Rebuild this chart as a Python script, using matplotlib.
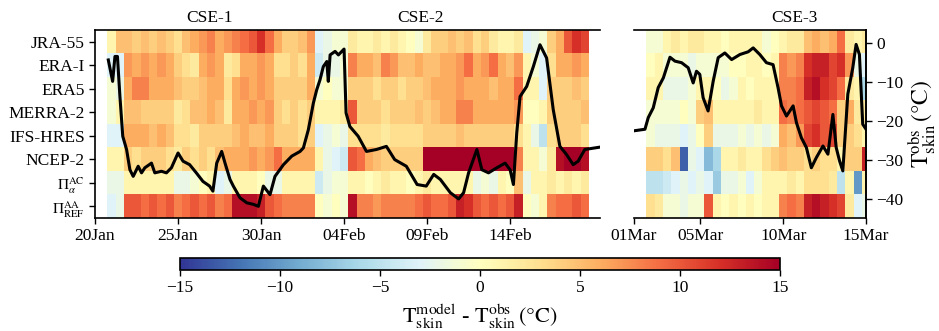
"""Model minus observed skin temperature for the three cold-spell events."""
from datetime import datetime

import numpy as np
import matplotlib
matplotlib.use("Agg")
import matplotlib.pyplot as plt
import matplotlib.dates as mdates
from matplotlib import transforms

plt.rcParams["font.family"] = ["Liberation Serif", "DejaVu Serif"]
plt.rcParams["mathtext.fontset"] = "stix"

# ---------------------------------------------------------------- data
rows = ["JRA-55", "ERA-I", "ERA5", "MERRA-2", "IFS-HRES", "NCEP-2",
        r"$\Pi_{\alpha}^{\mathrm{AC}}$", r"$\Pi_{\mathrm{REF}}^{\mathrm{AA}}$"]

# 12-hourly bias columns (degC), first column starts 20 Jan 18 UTC
start_a = datetime(2020, 1, 20, 18)
bias_a = [
    # JRA-55
    [1, 5, 5, 4, 5, 4, 5, 4, 3, 5, 6, 7, 8, 6, 7, 8, 9, 10, 12, 9,
     6, 4, 4, 5, 7, -3, -2, -1, -1, 2, 1, 1, 2, 1, 2, 1, 0, -1, 2, 4,
     4, 5, 4, 5, 3, 4, 2, 1, 1, 2, -3, -2, -1, 4, 6, 10, 12, 11],
    # ERA-I
    [-3, -3, 7, 6, 7, 6, 7, 6, 4, 3, 2, 6, 7, 6, 2, 3, 6, 6, 7, 6,
     3, 3, 4, 3, 6, -4, -2, -2, -1, 8, 6, 6, 5, 8, 7, 5, 5, 6, 5, 5,
     6, 6, 7, 9, 6, 7, 9, 6, 5, 7, 1, -1, -3, 3, 6, 6, 7, 6],
    # ERA5
    [-1, -2, 6, 8, 8, 6, 6, 6, 5, 4, 4, 5, 6, 6, 3, 6, 7, 6, 7, 6,
     4, 4, 4, 4, 6, -1, 0, -1, -1, 4, 4, 4, 3, 4, 4, 3, 4, 4, 5, 6,
     6, 6, 7, 6, 6, 6, 5, 6, 6, 9, 1, 1, -3, 4, 4, 4, 5, 4],
    # MERRA-2
    [-1, 1, 5, 5, 4, 4, 4, 4, 2, 3, 5, 5, 6, 5, 2, 6, 6, 7, 6, 7,
     4, 3, 4, 3, 4, 1, 1, 1, 2, 10, 4, 4, 4, 3, 4, 4, 4, 5, 4, 5,
     6, 6, 8, 8, 6, 6, 6, 6, 6, 7, 0, 0, 1, 4, 4, 4, 4, 5],
    # IFS-HRES
    [-3, -3, 6, 6, 6, 5, 6, 5, 3, 3, 2, 4, 4, 4, 4, 5, 6, 5, 5, 6,
     4, 4, 4, 3, 4, -3, -2, -1, -2, 3, 3, 3, 3, 2, 3, 3, 3, 3, 4, 4,
     4, 4, 5, 4, 4, 4, 4, 4, 4, 3, 1, -2, -5, 3, 4, 4, 4, 3],
    # NCEP-2
    [1, 1, 4, 3, 4, 4, 4, 3, 2, 4, 3, 4, 3, 5, 6, 6, 6, 7, 6, 7,
     9, 6, 6, 6, 6, 1, -2, -3, -4, 10, 9, 6, 5, 4, 4, 4, 4, 4, 15, 15,
     15, 15, 15, 15, 15, 15, 15, 15, 15, 8, 1, 1, -1, 2, 14, 15, 15, 14],
    # Pi alpha AC
    [-2, -2, 1, 1, 1, 1, 1, 1, -2, -2, -1, 0, 1, -3, -2, 1, 1, 1, 0, -2,
     -2, 1, 1, 1, 1, -4, -2, -1, -1, 1, 1, 0, 1, 2, 1, 1, 0, 1, 2, 1,
     1, 1, 1, 1, -2, -1, -2, 1, 0, 5, -2, 1, 1, 2, 1, 2, 1, 2],
    # Pi REF AA
    [-3, -2, 10, 10, 9, 10, 9, 10, 8, 9, 10, 9, 10, 8, 9, 14, 14, 14, 13, 10,
     9, 8, 8, 8, 8, 0, -1, 0, -1, 14, 8, 8, 7, 8, 8, 8, 8, 9, 10, 9,
     9, 10, 13, 12, 10, 9, 10, 9, 10, 13, 0, -1, 1, 8, 9, 9, 10, 9],
]

start_b = datetime(2020, 3, 1, 18)
bias_b = [
    [-1, -1, 1, 2, 1, 2, 2, 1, 1, 0, 1, 1, 1, 1, -1, 0, 1, 2, 2, 5, 6, 5, 6, 9, 2, 1, 2],
    [0, 1, -1, -1, -1, -2, -1, -1, -1, -1, 0, 0, 1, 1, 0, 1, 8, 7, 8, 12, 13, 13, 11, 12, 7, -2, -3],
    [1, 1, -2, -2, -2, -1, 1, 1, 0, -2, -1, 1, 0, 1, 1, 1, 8, 8, 9, 13, 14, 12, 11, 9, 2, 1, -6],
    [-1, -1, -1, -1, 0, -1, 4, 5, 1, 1, 1, 1, 1, 2, 1, 1, 9, 8, 9, 10, 11, 10, 9, 4, 6, 2, 2],
    [-1, -2, -2, -2, -3, -2, 0, 4, -2, -2, -2, -1, -2, -1, -2, -1, 6, 5, 7, 11, 12, 10, 11, 4, 4, 3, 1],
    [4, 4, 3, 5, -13, -2, -3, -8, -6, 1, 1, 2, 1, 1, 3, 4, 5, 4, 4, 3, 4, 3, 3, 1, 4, 4, 13],
    [-5, -5, -4, -3, -2, -3, -2, -3, -7, -2, -2, -1, -3, -1, 1, 1, 1, 2, 1, 3, 3, 3, 2, -5, 1, -10, 1],
    [3, 2, -1, -1, -2, -1, -1, 10, 1, 0, 1, 0, 1, 0, 1, 1, 8, 9, 8, 13, 14, 13, 12, 11, 2, -3, -2],
]

# observed skin temperature: days after 20 Jan / degC
tobs_day_a = [0.8, 1.06, 1.2, 1.35, 1.5, 1.67, 1.9, 2.1, 2.3, 2.6, 2.8, 3.0, 3.4, 3.6,
              4.0, 4.3, 4.6, 5.0, 5.3, 5.7, 6.1, 6.5, 6.9, 7.1, 7.33, 7.63, 7.83, 8.13,
              8.33, 8.73, 9.14, 9.54, 9.84, 10.14, 10.54, 10.84, 11.35, 11.85, 12.35,
              12.55, 12.85, 13.15, 13.35, 13.55, 13.75, 13.96, 14.05, 14.16, 14.46,
              14.66, 15.0, 15.12, 15.35, 15.85, 16.35, 16.95, 17.55, 18.05, 18.75,
              19.4, 19.95, 20.4, 20.8, 21.4, 21.9, 22.2, 22.5, 23.0, 23.3, 23.7, 24.2,
              24.7, 25.0, 25.2, 25.4, 25.6, 26.0, 26.4, 26.8, 27.2, 27.6, 28.0, 28.4,
              28.8, 29.1, 29.5, 30.4]
tobs_a = [-4.4, -9.9, -3.5, -3.5, -13.8, -24.0, -27.4, -32.6, -34.3, -31.7, -33.4,
          -32.1, -30.9, -33.4, -33.0, -33.4, -32.1, -28.3, -30.4, -31.3, -33.4, -35.6,
          -36.8, -38.1, -30.9, -27.9, -30.9, -35.1,
          -36.8, -39.8, -41.1, -41.5, -42.0, -36.8, -39.0, -34.3, -31.3, -29.1, -27.9,
          -27.0, -22.3, -15.5, -12.1, -9.5, -6.1, -4.8, -9.9, -3.1, -2.2,
          -3.1, -1.6, -18.0, -21.5, -24.0, -27.9, -27.4, -26.6, -30.0, -31.7,
          -36.4, -36.8, -33.8, -35.1, -38.5, -40.1, -38.5, -33.4, -27.4, -32.6, -33.4,
          -32.1, -30.9, -32.6, -36.4, -23.2, -13.8, -11.2, -6.1, -0.5, -3.9, -17.2,
          -26.6, -28.7, -31.3, -30.4, -27.4, -26.8]

# days after 1 Mar / degC
tobs_day_b = [0.0, 0.66, 0.86, 1.16, 1.46, 1.77, 2.17, 2.47, 2.87, 3.27, 3.57, 3.77,
              3.97, 4.17, 4.47, 4.78, 5.08, 5.48, 5.89, 6.39, 6.89, 7.19, 7.59, 7.99,
              8.39, 8.69, 8.9, 9.2, 9.6, 9.8, 10.1, 10.4, 10.7, 11.0, 11.4, 11.7, 12.0,
              12.2, 12.4, 12.6, 12.9, 13.2, 13.4, 13.6, 13.8, 14.0]
tobs_b = [-22.6, -22.2, -19.2, -16.7, -11.5, -9.0, -3.7, -4.7, -5.1, -6.4, -10.3, -7.3,
          -8.1, -14.1, -17.5, -9.8, -3.8, -2.6, -4.3, -3.0, -2.3, -1.3, -3.0, -5.1,
          -5.6, -11.5, -16.2, -18.8, -16.2, -20.5, -24.4, -26.9, -32.1, -29.5, -26.5,
          -28.6, -18.4, -26.9, -30.3, -32.9, -13.2, -6.4, -0.4, -3.0, -20.9, -22.2]

cases = ["CSE-1", "CSE-2", "CSE-3"]

# ---------------------------------------------------------------- figure
fig = plt.figure(figsize=(9.39, 3.31), dpi=100)
ax_a = fig.add_axes([0.1012, 0.3414, 0.5378, 0.568])
ax_b = fig.add_axes([0.6752, 0.3414, 0.2471, 0.568])
cax = fig.add_axes([0.1917, 0.1843, 0.639, 0.0363])

cmap = "RdYlBu_r"
TICK = 12.5


def heat(ax, start, bias):
    values = np.array(bias, dtype=float)
    t0 = mdates.date2num(start)
    edges = t0 + 0.5 * np.arange(values.shape[1] + 1)
    return ax.pcolormesh(edges, np.arange(len(rows) + 1), values,
                         cmap=cmap, vmin=-15, vmax=15, shading="flat")


mesh = heat(ax_a, start_a, bias_a)
heat(ax_b, start_b, bias_b)

ax_a.set_xlim(mdates.date2num(datetime(2020, 1, 20)),
              mdates.date2num(datetime(2020, 2, 19, 10)))
ax_b.set_xlim(mdates.date2num(datetime(2020, 3, 1)),
              mdates.date2num(datetime(2020, 3, 15)))

for ax in (ax_a, ax_b):
    ax.set_ylim(len(rows), 0)
    ax.xaxis.set_major_formatter(mdates.DateFormatter("%d%b"))
    ax.tick_params(labelsize=TICK, length=4, width=1)
    for s in ax.spines.values():
        s.set_linewidth(1.2)

ax_a.set_xticks([mdates.date2num(datetime(2020, 1, 20)) + 5 * k for k in range(6)])
ax_b.set_xticks([mdates.date2num(d) for d in (datetime(2020, 3, 1), datetime(2020, 3, 5),
                                                datetime(2020, 3, 10), datetime(2020, 3, 15))])
ax_a.set_yticks(np.arange(len(rows)) + 0.5)
ax_a.set_yticklabels(rows)
# the two Pi indices are typeset smaller than the model names
for lab in ax_a.get_yticklabels()[-2:]:
    lab.set_fontsize(11)
ax_a.spines["right"].set_visible(False)
ax_b.set_yticks([])
ax_b.spines["left"].set_visible(False)

# observed skin temperature on twin axes
t_a = mdates.date2num(datetime(2020, 1, 20)) + np.array(tobs_day_a)
t_b = mdates.date2num(datetime(2020, 3, 1)) + np.array(tobs_day_b)
tw_a = ax_a.twinx()
tw_b = ax_b.twinx()
for tw, t, y in ((tw_a, t_a, tobs_a), (tw_b, t_b, tobs_b)):
    tw.plot(t, y, color="black", lw=2.2)
    tw.set_ylim(-45, 3.3)
    for s in tw.spines.values():
        s.set_visible(False)
tw_a.set_yticks([])
tw_b.spines["right"].set_visible(True)
tw_b.spines["right"].set_linewidth(1.2)
tw_b.set_yticks([0, -10, -20, -30, -40])
tw_b.set_yticklabels(["0", "\u221210", "\u221220", "\u221230", "\u221240"])
tw_b.tick_params(labelsize=TICK, length=4, width=1)
tw_b.set_ylabel(r"$\mathrm{T}_{\mathrm{skin}}^{\mathrm{obs}}\,(°\mathrm{C})$", fontsize=17,
                labelpad=2)

# case labels above the panels
for ax, name, when in ((ax_a, cases[0], datetime(2020, 1, 26, 22)),
                       (ax_a, cases[1], datetime(2020, 2, 8, 14)),
                       (ax_b, cases[2], datetime(2020, 3, 10, 17))):
    trans = transforms.blended_transform_factory(ax.transData, ax.transAxes)
    ax.text(mdates.date2num(when), 1.02, name, transform=trans,
            ha="center", va="bottom", fontsize=12.5)

cb = fig.colorbar(mesh, cax=cax, orientation="horizontal")
cb.set_ticks([-15, -10, -5, 0, 5, 10, 15])
cb.set_ticklabels(["\u221215", "\u221210", "\u22125", "0", "5", "10", "15"])
cb.ax.tick_params(labelsize=TICK, length=4, width=1)
cb.outline.set_linewidth(1.2)
cb.set_label(r"$\mathrm{T}_{\mathrm{skin}}^{\mathrm{model}}$ - "
             r"$\mathrm{T}_{\mathrm{skin}}^{\mathrm{obs}}\,(°\mathrm{C})$", fontsize=16)

fig.savefig("out.png", dpi=100)
